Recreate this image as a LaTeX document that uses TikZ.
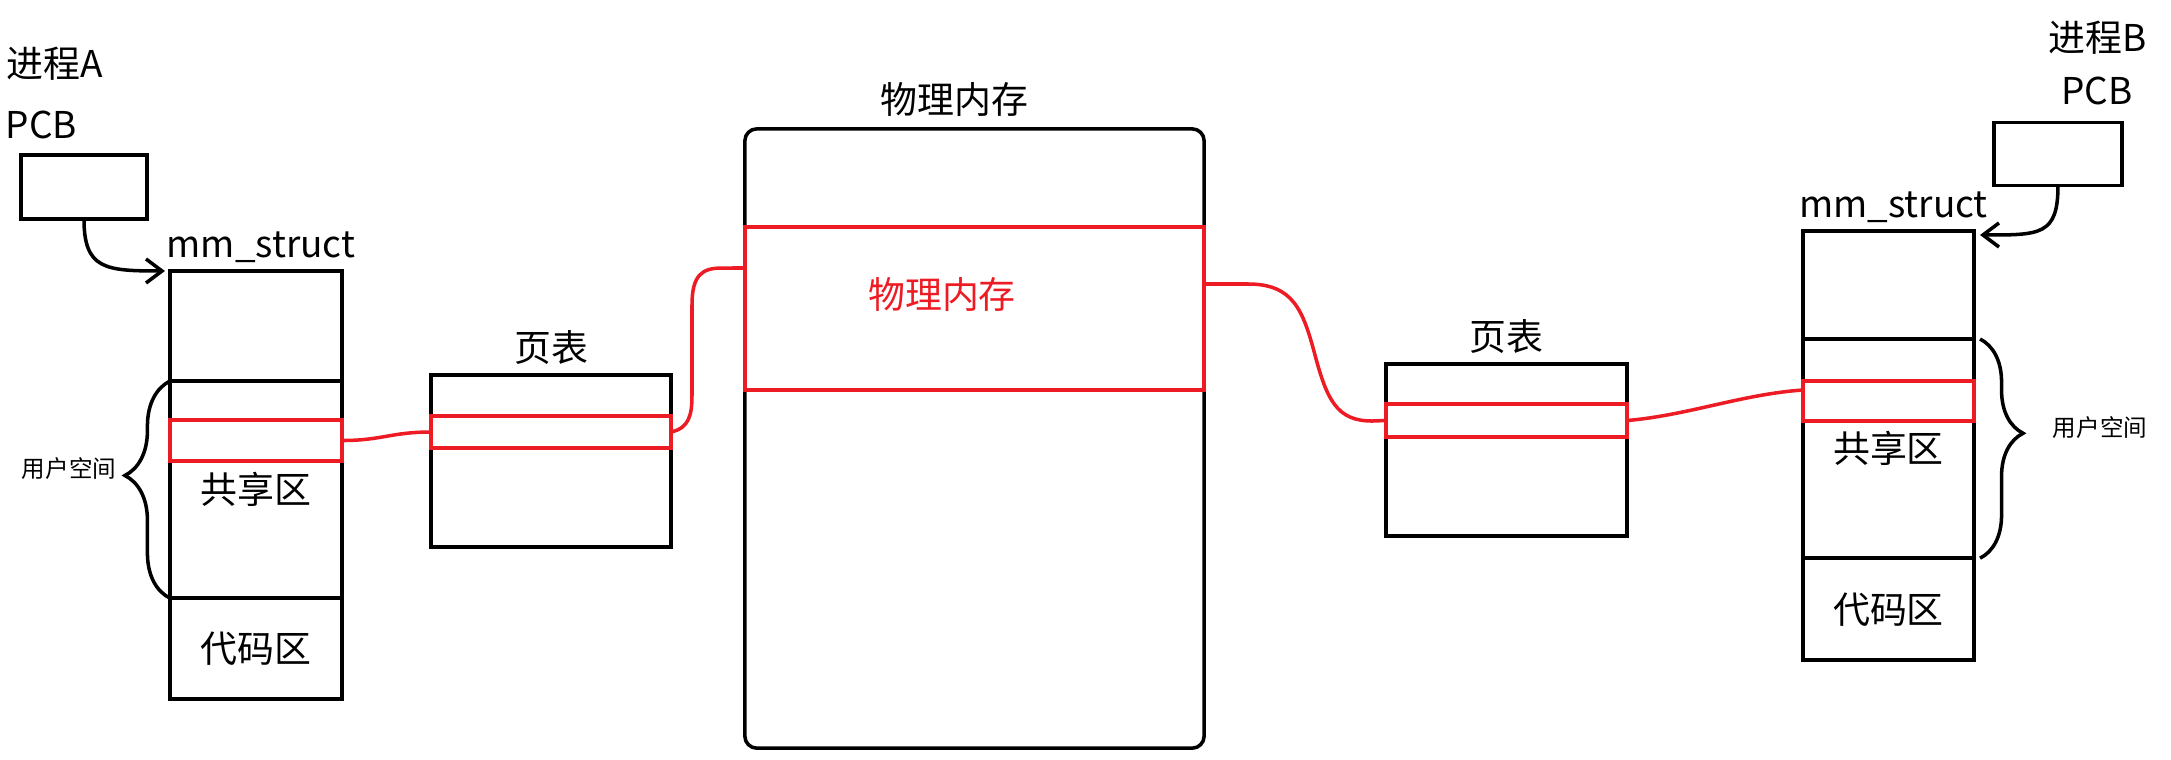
\documentclass[tikz,border=0pt]{standalone}
\usepackage{fontspec}
\setmainfont{Noto Sans CJK SC}
\usepackage{tikz}
\usetikzlibrary{positioning, arrows.meta, decorations.pathreplacing}
\definecolor{paintred}{RGB}{237,28,36}
\tikzset{box/.style = {draw, line width=1pt, inner sep=0pt, outer sep=0pt}}
\tikzset{redbox/.style = {box, draw=paintred}}
\tikzset{txt/.style = {inner sep=0pt, font=\fontsize{10.5}{12}\selectfont}}
\tikzset{smalltxt/.style = {inner sep=0pt, font=\fontsize{6.7}{8}\selectfont}}
\tikzset{link/.style = {draw=paintred, line width=1pt}}
\tikzset{bracket/.style = {draw, line width=1pt, decorate, decoration={brace, amplitude=0.45cm}}}

\begin{document}
\begin{tikzpicture}[x=0.01cm, y=-0.01cm, >={Straight Barb[length=1.6mm, width=2.4mm]}]
  \useasboundingbox (0,0) rectangle (2171,759);

  \node [txt, anchor=west] (nameA) at (6,64) {进程A};
  \node [txt, anchor=west] (pcbtA) at (5,125) {PCB};
  \node [box, minimum width=1.26cm, minimum height=0.64cm] (pcbA) at (84,187) {};
  \node [box, minimum width=1.72cm, minimum height=1.10cm] (mmA) at (256,326) {};
  \node [box, minimum width=1.72cm, minimum height=2.17cm, below=0pt of mmA, txt] (userA) {共享区};
  \node [box, minimum width=1.72cm, minimum height=1.01cm, below=0pt of userA, txt] (codeA) {代码区};
  \node [redbox, minimum width=1.72cm, minimum height=0.41cm] (shareA) at (256,440.5) {};
  \node [txt, above=0.08cm of mmA, xshift=0.05cm] (mmtA) {mm\_struct};
  \node [smalltxt] (userlA) at (69,469) {用户空间};

  \node [box, minimum width=2.40cm, minimum height=1.72cm] (ptA) at (551,461) {};
  \node [redbox, minimum width=2.40cm, minimum height=0.32cm] (rowA) at (551,432) {};
  \node [txt, above=0.1cm of ptA] (pttA) {页表};

  \node [box, rounded corners=0.12cm, minimum width=4.59cm, minimum height=6.19cm] (mem) at (974.5,438.5) {};
  \node [redbox, minimum width=4.59cm, minimum height=1.63cm] (band) at (974.5,308.5) {};
  \node [txt, text=paintred] (bandt) at (942,294) {物理内存};
  \node [txt, above=0.12cm of mem, xshift=-0.2cm] (memt) {物理内存};

  \node [box, minimum width=2.41cm, minimum height=1.72cm] (ptB) at (1506.5,450) {};
  \node [redbox, minimum width=2.41cm, minimum height=0.33cm] (rowB) at (1506.5,420.5) {};
  \node [txt, above=0.1cm of ptB] (pttB) {页表};

  \node [txt] (nameB) at (2098,38) {进程B};
  \node [txt] (pcbtB) at (2097,91) {PCB};
  \node [box, minimum width=1.28cm, minimum height=0.63cm] (pcbB) at (2058,154) {};
  \node [box, minimum width=1.71cm, minimum height=1.08cm] (mmB) at (1888.5,285) {};
  \node [box, minimum width=1.71cm, minimum height=2.19cm, below=0pt of mmB, txt] (userB) {共享区};
  \node [box, minimum width=1.71cm, minimum height=1.02cm, below=0pt of userB, txt] (codeB) {代码区};
  \node [redbox, minimum width=1.71cm, minimum height=0.40cm] (shareB) at (1888.5,401) {};
  \node [txt, above=0.08cm of mmB, xshift=0.05cm] (mmtB) {mm\_struct};
  \node [smalltxt] (userlB) at (2100,428) {用户空间};

  \draw [->, line width=1pt] (pcbA.south) .. controls +(0,50) and +(-60,0) .. ([xshift=-0.05cm]mmA.north west);
  \draw [->, line width=1pt] (pcbB.south) .. controls +(0,50) and +(60,0) .. ([xshift=0.06cm, yshift=-0.04cm]mmB.north east);

  \draw [bracket, decoration={aspect=0.565}] (userA.south west) -- (userA.north west);
  \draw [bracket, decoration={aspect=0.43, amplitude=0.43cm}] ([xshift=0.06cm]userB.north east) -- ([xshift=0.06cm]userB.south east);

  \draw [link] (shareA.east) .. controls +(40,0) and +(-40,0) .. (rowA.west);
  \draw [link] (rowA.east) .. controls +(18,-4) and +(0,20) .. (692,395) -- (692,305) .. controls +(0,-30) and +(-20,0) .. (722,268) -- ([yshift=0.405cm]band.west);
  \draw [link] ([yshift=0.245cm]band.east) -- +(44,0) .. controls +(45,0) and +(-12,-45) .. (1315,355) .. controls +(12,45) and +(-35,0) .. (1372,421) -- (rowB.west);
  \draw [link] (rowB.east) .. controls +(60,-5) and +(-60,4) .. ([yshift=0.11cm]shareB.west);
\end{tikzpicture}
\end{document}
